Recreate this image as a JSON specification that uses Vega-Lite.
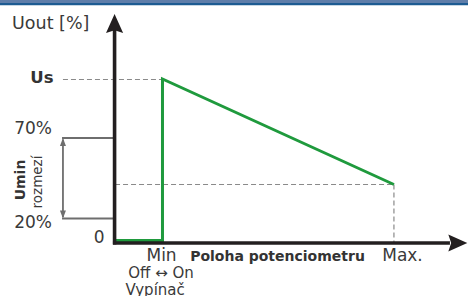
{
  "$schema": "https://vega.github.io/schema/vega-lite/v6.json",
  "width": 468,
  "height": 296,
  "autosize": {"type": "none"},
  "padding": 0,
  "background": "white",
  "config": {"view": {"stroke": null}},
  "datasets": {
    "barLight": [{"x": -70.2, "x2": 132, "y": 240.5, "y2": 237.4}],
    "barDark": [{"x": -70.2, "x2": 132, "y": 237.4, "y2": 235.3}],
    "green": [
      {"pos": -20.5, "level": 0, "ord": 1},
      {"pos": 0, "level": 0, "ord": 2},
      {"pos": 0, "level": 161.5, "ord": 3},
      {"pos": 100, "level": 56, "ord": 4}
    ],
    "dashed": [
      {"x": -43, "y": 161, "x2": 0, "y2": 161},
      {"x": -20.5, "y": 56, "x2": 100, "y2": 56},
      {"x": 100, "y": 56, "x2": 100, "y2": -2.5}
    ],
    "gray": [
      {"x": -43.4, "y": 102.5, "x2": -21, "y2": 102.5},
      {"x": -43.4, "y": 22, "x2": -21, "y2": 22},
      {"x": -43, "y": 101, "x2": -43, "y2": 23.5}
    ],
    "grayUp": [{"x": -43, "y": 98.5}],
    "grayDown": [{"x": -43, "y": 26}],
    "axes": [
      {"x": -20.7, "y": -4, "x2": -20.7, "y2": 212.5},
      {"x": -21.4, "y": -2.5, "x2": 124.2, "y2": -2.5}
    ],
    "headUp": [{"x": -20.7, "y": 217}],
    "headRight": [{"x": 127.6, "y": -2.5}],
    "labels": [
      {"t": "Uout [%]", "x": -65.0, "y": 211.5, "g": "title"},
      {"t": "Us", "x": -52.1, "y": 157.5, "g": "us"},
      {"t": "70%", "x": -55.9, "y": 106.5, "g": "pct"},
      {"t": "20%", "x": -55.9, "y": 12.5, "g": "pct"},
      {"t": "0", "x": -27.4, "y": -2.5, "g": "pct"},
      {"t": "Min", "x": -0.4, "y": -20.5, "g": "tick"},
      {"t": "Max.", "x": 103.7, "y": -20.5, "g": "tick"},
      {"t": "Poloha potenciometru", "x": 49.7, "y": -20.5, "g": "axisTitle"},
      {"t": "Off ↔ On", "x": -0.6, "y": -37.5, "g": "small"},
      {"t": "Vypínač", "x": -3.2, "y": -54.5, "g": "small"},
      {"t": "Umin", "x": -61.1, "y": 60.5, "g": "umin"},
      {"t": "rozmezí", "x": -53.8, "y": 58.5, "g": "roz"}
    ]
  },
  "layer": [
    {
      "data": {"name": "dashed"},
      "mark": {"type": "rule", "color": "#8a8a8a", "strokeWidth": 1.2, "strokeDash": [5, 3]},
      "encoding": {
        "x": {"field": "x", "type": "quantitative", "scale": {"domain": [-70.2, 132], "nice": false, "zero": false}, "axis": null},
        "x2": {"field": "x2"},
        "y": {"field": "y", "type": "quantitative", "scale": {"domain": [-55.5, 240.5], "nice": false, "zero": false}, "axis": null},
        "y2": {"field": "y2"}
      }
    },
    {
      "data": {"name": "gray"},
      "mark": {"type": "rule", "color": "#6e6e6e", "strokeWidth": 1.8},
      "encoding": {
        "x": {"field": "x", "type": "quantitative"},
        "x2": {"field": "x2"},
        "y": {"field": "y", "type": "quantitative"},
        "y2": {"field": "y2"}
      }
    },
    {
      "data": {"name": "grayUp"},
      "mark": {"type": "point", "shape": "M0,-1L0.75,1L-0.75,1Z", "filled": true, "color": "#6e6e6e", "size": 64, "opacity": 1},
      "encoding": {
        "x": {"field": "x", "type": "quantitative"},
        "y": {"field": "y", "type": "quantitative"}
      }
    },
    {
      "data": {"name": "grayDown"},
      "mark": {"type": "point", "shape": "M0,1L0.75,-1L-0.75,-1Z", "filled": true, "color": "#6e6e6e", "size": 64, "opacity": 1},
      "encoding": {
        "x": {"field": "x", "type": "quantitative"},
        "y": {"field": "y", "type": "quantitative"}
      }
    },
    {
      "data": {"name": "green"},
      "mark": {"type": "line", "color": "#1f9a3d", "strokeWidth": 3, "strokeJoin": "miter", "strokeCap": "butt"},
      "encoding": {
        "x": {"field": "pos", "type": "quantitative"},
        "y": {"field": "level", "type": "quantitative"},
        "order": {"field": "ord", "type": "quantitative"}
      }
    },
    {
      "data": {"name": "axes"},
      "mark": {"type": "rule", "color": "#231f20", "strokeWidth": 3.6, "strokeCap": "butt"},
      "encoding": {
        "x": {"field": "x", "type": "quantitative"},
        "x2": {"field": "x2"},
        "y": {"field": "y", "type": "quantitative"},
        "y2": {"field": "y2"}
      }
    },
    {
      "data": {"name": "headUp"},
      "mark": {"type": "point", "shape": "M0,-1L0.9,1L0,0.7L-0.9,1Z", "filled": true, "color": "#231f20", "size": 361, "opacity": 1},
      "encoding": {
        "x": {"field": "x", "type": "quantitative"},
        "y": {"field": "y", "type": "quantitative"}
      }
    },
    {
      "data": {"name": "headRight"},
      "mark": {"type": "point", "shape": "M1,0L-1,0.9L-0.7,0L-1,-0.9Z", "filled": true, "color": "#231f20", "size": 361, "opacity": 1},
      "encoding": {
        "x": {"field": "x", "type": "quantitative"},
        "y": {"field": "y", "type": "quantitative"}
      }
    },
    {
      "data": {"name": "barLight"},
      "mark": {"type": "rect", "color": "#5f7eaa", "opacity": 1},
      "encoding": {
        "x": {"field": "x", "type": "quantitative"},
        "x2": {"field": "x2"},
        "y": {"field": "y", "type": "quantitative"},
        "y2": {"field": "y2"}
      }
    },
    {
      "data": {"name": "barDark"},
      "mark": {"type": "rect", "color": "#1d5b92", "opacity": 1},
      "encoding": {
        "x": {"field": "x", "type": "quantitative"},
        "x2": {"field": "x2"},
        "y": {"field": "y", "type": "quantitative"},
        "y2": {"field": "y2"}
      }
    },
    {
      "data": {"name": "labels"},
      "transform": [{"filter": "datum.g == 'title'"}],
      "mark": {"type": "text", "font": "DejaVu Sans", "fontSize": 17.5, "color": "#3a3a3a", "align": "left", "baseline": "alphabetic"},
      "encoding": {
        "x": {"field": "x", "type": "quantitative"},
        "y": {"field": "y", "type": "quantitative"},
        "text": {"field": "t"}
      }
    },
    {
      "data": {"name": "labels"},
      "transform": [{"filter": "datum.g == 'us'"}],
      "mark": {"type": "text", "font": "DejaVu Sans", "fontSize": 16.5, "fontWeight": "bold", "color": "#333333", "align": "center", "baseline": "alphabetic"},
      "encoding": {
        "x": {"field": "x", "type": "quantitative"},
        "y": {"field": "y", "type": "quantitative"},
        "text": {"field": "t"}
      }
    },
    {
      "data": {"name": "labels"},
      "transform": [{"filter": "datum.g == 'pct'"}],
      "mark": {"type": "text", "font": "DejaVu Sans", "fontSize": 17, "color": "#3a3a3a", "align": "center", "baseline": "alphabetic"},
      "encoding": {
        "x": {"field": "x", "type": "quantitative"},
        "y": {"field": "y", "type": "quantitative"},
        "text": {"field": "t"}
      }
    },
    {
      "data": {"name": "labels"},
      "transform": [{"filter": "datum.g == 'tick'"}],
      "mark": {"type": "text", "font": "DejaVu Sans", "fontSize": 17, "color": "#3a3a3a", "align": "center", "baseline": "alphabetic"},
      "encoding": {
        "x": {"field": "x", "type": "quantitative"},
        "y": {"field": "y", "type": "quantitative"},
        "text": {"field": "t"}
      }
    },
    {
      "data": {"name": "labels"},
      "transform": [{"filter": "datum.g == 'axisTitle'"}],
      "mark": {"type": "text", "font": "DejaVu Sans", "fontSize": 14, "fontWeight": "bold", "color": "#333333", "align": "center", "baseline": "alphabetic"},
      "encoding": {
        "x": {"field": "x", "type": "quantitative"},
        "y": {"field": "y", "type": "quantitative"},
        "text": {"field": "t"}
      }
    },
    {
      "data": {"name": "labels"},
      "transform": [{"filter": "datum.g == 'small'"}],
      "mark": {"type": "text", "font": "DejaVu Sans", "fontSize": 15, "color": "#3a3a3a", "align": "center", "baseline": "alphabetic"},
      "encoding": {
        "x": {"field": "x", "type": "quantitative"},
        "y": {"field": "y", "type": "quantitative"},
        "text": {"field": "t"}
      }
    },
    {
      "data": {"name": "labels"},
      "transform": [{"filter": "datum.g == 'umin'"}],
      "mark": {"type": "text", "font": "DejaVu Sans", "fontSize": 14, "fontWeight": "bold", "color": "#333333", "align": "center", "baseline": "middle", "angle": 270},
      "encoding": {
        "x": {"field": "x", "type": "quantitative"},
        "y": {"field": "y", "type": "quantitative"},
        "text": {"field": "t"}
      }
    },
    {
      "data": {"name": "labels"},
      "transform": [{"filter": "datum.g == 'roz'"}],
      "mark": {"type": "text", "font": "DejaVu Sans", "fontSize": 13.5, "color": "#3a3a3a", "align": "center", "baseline": "middle", "angle": 270},
      "encoding": {
        "x": {"field": "x", "type": "quantitative"},
        "y": {"field": "y", "type": "quantitative"},
        "text": {"field": "t"}
      }
    }
  ]
}
